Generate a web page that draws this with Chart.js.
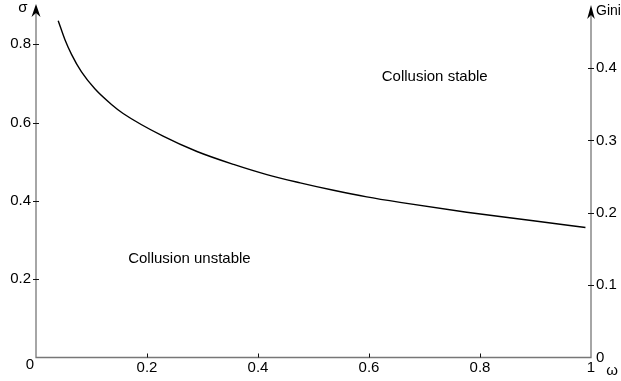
<!DOCTYPE html>
<html>
<head>
<meta charset="utf-8">
<script src="https://cdn.jsdelivr.net/npm/chart.js@4.4.1/dist/chart.umd.min.js"></script>
<style>
  html, body { margin: 0; padding: 0; background: #fff; }
  #wrap { width: 621px; height: 381px; position: relative; }
</style>
</head>
<body>
<div id="wrap"><canvas id="chart"></canvas></div>
<script>
// boundary curve
const omega = [0.04, 0.052, 0.064, 0.082, 0.106, 0.136, 0.157, 0.229, 0.29, 0.356, 0.416, 0.476, 0.536, 0.596, 0.656, 0.776, 0.896, 0.99];
const sigma = [0.86, 0.812, 0.774, 0.729, 0.686, 0.646, 0.623, 0.565, 0.526, 0.493, 0.467, 0.446, 0.427, 0.41, 0.396, 0.371, 0.349, 0.332];

const xTicks = [0.2, 0.4, 0.6, 0.8, 1];
const sigmaTicks = [0.2, 0.4, 0.6, 0.8];
const giniTicks = [0, 0.1, 0.2, 0.3, 0.4];

const regionLabels = [
  { text: 'Collusion stable', x: 0.623, y: 0.717 },
  { text: 'Collusion unstable', x: 0.166, y: 0.252 },
];

const FONT = '"Liberation Sans", Arial, sans-serif';
const AXIS = '#777';

function arrowUp(ctx, x, tipY, hw, len) {
  ctx.beginPath();
  ctx.moveTo(x, tipY);
  ctx.lineTo(x - hw, tipY + len);
  ctx.lineTo(x, tipY + len - 4);
  ctx.lineTo(x + hw, tipY + len);
  ctx.closePath();
  ctx.fill();
}

function noPad(s) {
  s.paddingTop = 0; s.paddingBottom = 0;
  s.paddingLeft = 0; s.paddingRight = 0;
}

const axesPlugin = {
  id: 'axesPlugin',
  afterDraw(chart) {
    const { ctx, chartArea: a, scales } = chart;
    const xs = scales.x, ys = scales.y, g = scales.y1;
    ctx.save();

    // axis lines
    ctx.strokeStyle = AXIS;
    ctx.lineWidth = 1.3;
    ctx.beginPath();
    ctx.moveTo(a.left, a.top + 6); ctx.lineTo(a.left, a.bottom);
    ctx.lineTo(a.right, a.bottom);
    ctx.lineTo(a.right, a.top + 6);
    ctx.stroke();

    // tick marks
    ctx.strokeStyle = '#111';
    ctx.lineWidth = 1;
    ctx.beginPath();
    sigmaTicks.forEach(v => {
      const y = Math.round(ys.getPixelForValue(v)) + 0.5;
      ctx.moveTo(a.left - 3, y); ctx.lineTo(a.left + 3, y);
    });
    giniTicks.filter(v => v > 0).forEach(v => {
      const y = Math.round(g.getPixelForValue(v)) + 0.5;
      ctx.moveTo(a.right - 3, y); ctx.lineTo(a.right + 3, y);
    });
    xTicks.filter(v => v < 1).forEach(v => {
      const x = Math.round(xs.getPixelForValue(v)) + 0.5;
      ctx.moveTo(x, a.bottom - 4); ctx.lineTo(x, a.bottom);
    });
    ctx.stroke();

    // arrow heads
    ctx.fillStyle = '#000';
    arrowUp(ctx, a.left, a.top - 1, 4.5, 13);
    arrowUp(ctx, a.right, a.top, 3.8, 14);

    // axis titles and origin
    ctx.font = '15px ' + FONT;
    ctx.textBaseline = 'middle';
    ctx.textAlign = 'center';
    ctx.fillText('σ', a.left - 13, a.top + 3);
    ctx.fillText('0', a.left - 6, a.bottom + 7);
    ctx.textBaseline = 'alphabetic';
    ctx.fillText('ω', a.right + 21, a.bottom + 17);
    ctx.font = '14px ' + FONT;
    ctx.textAlign = 'left';
    ctx.textBaseline = 'middle';
    ctx.fillText('Gini', a.right + 5, a.top + 6);

    // region labels
    ctx.font = '15px ' + FONT;
    regionLabels.forEach(l => {
      ctx.fillText(l.text, xs.getPixelForValue(l.x), ys.getPixelForValue(l.y));
    });
    ctx.restore();
  }
};

new Chart(document.getElementById('chart'), {
  type: 'line',
  data: {
    datasets: [{
      data: omega.map((w, i) => ({ x: w, y: sigma[i] })),
      borderColor: '#000',
      borderWidth: 1.4,
      pointRadius: 0,
      cubicInterpolationMode: 'monotone',
      fill: false,
      yAxisID: 'y',
    }],
  },
  options: {
    responsive: true,
    maintainAspectRatio: false,
    animation: false,
    layout: { padding: { top: 5, left: 0, right: 0, bottom: 0 } },
    plugins: { legend: { display: false }, tooltip: { enabled: false } },
    scales: {
      x: {
        type: 'linear', min: 0, max: 1,
        afterBuildTicks: s => { s.ticks = xTicks.map(v => ({ value: v })); },
        afterFit: s => { s.height = 23.5; noPad(s); },
        grid: { display: false, drawTicks: false },
        border: { display: false },
        ticks: { color: '#000', padding: 1, maxRotation: 0, autoSkip: false, font: { family: FONT, size: 15 }, callback: v => String(v) },
      },
      y: {
        type: 'linear', position: 'left', min: 0, max: 0.9,
        afterBuildTicks: s => { s.ticks = sigmaTicks.map(v => ({ value: v })); },
        afterFit: s => { s.width = 36; noPad(s); },
        grid: { display: false, drawTicks: false },
        border: { display: false },
        ticks: { color: '#000', padding: 5, font: { family: FONT, size: 15 }, callback: v => String(v) },
      },
      y1: {
        type: 'linear', position: 'right', min: 0, max: 0.4873,
        afterBuildTicks: s => { s.ticks = giniTicks.map(v => ({ value: v })); },
        afterFit: s => { s.width = 30; noPad(s); },
        grid: { display: false, drawTicks: false },
        border: { display: false },
        ticks: { color: '#000', padding: 5, font: { family: FONT, size: 15 }, callback: v => String(v) },
      },
    },
  },
  plugins: [axesPlugin],
});
</script>
</body>
</html>
